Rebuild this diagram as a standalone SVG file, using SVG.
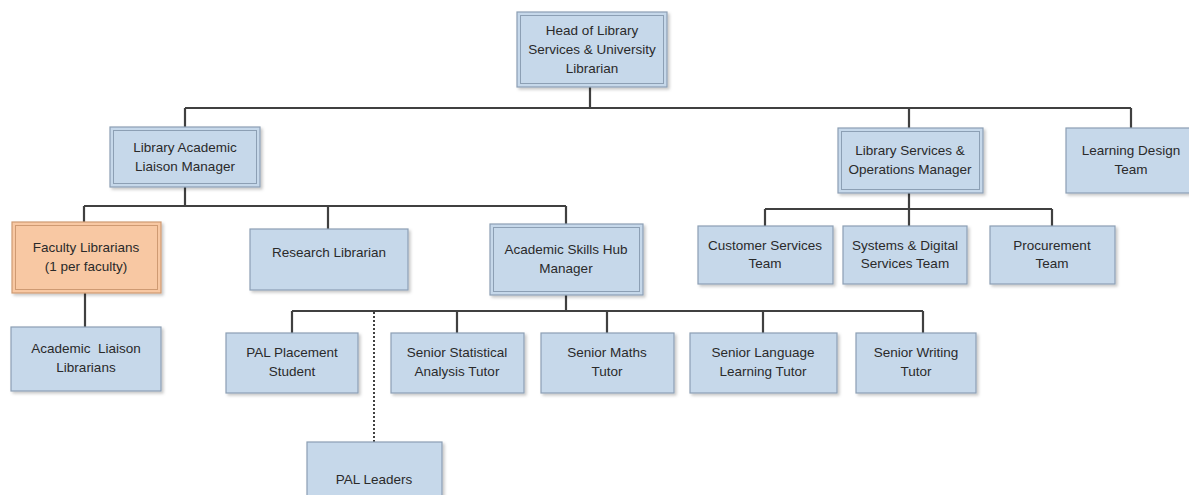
<svg xmlns="http://www.w3.org/2000/svg" width="1189" height="495" viewBox="0 0 1189 495">
  <defs>
    <filter id="shadow" x="-10%" y="-10%" width="130%" height="130%">
      <feDropShadow dx="2" dy="2" stdDeviation="1.5" flood-color="#000" flood-opacity="0.22"/>
    </filter>
  </defs>
  <style>
    .box { fill: #c6d8ea; stroke: #8c9fb4; stroke-width: 1.2; filter: url(#shadow); }
    .inner { fill: none; stroke: #8c9fb4; stroke-width: 1; }
    .orange { fill: #f8c8a3; stroke: #cf9a72; stroke-width: 1.2; filter: url(#shadow); }
    .inner-o { fill: none; stroke: #cf9a72; stroke-width: 1; }
    .lbl { font-family: "Liberation Sans", Arial, sans-serif; font-size: 13.5px; fill: #2a2a2a; text-anchor: middle; }
    .line { stroke: #404040; stroke-width: 2.2; fill: none; }
    .dotted { stroke: #404040; stroke-width: 2; fill: none; stroke-dasharray: 2 2; }
  </style>

  <rect width="1189" height="495" fill="#ffffff"/>

  <!-- reporting lines -->
  <g id="connectors">
    <path class="line" d="M590 87 V108 M185 108 H1131 M185 108 V127 M909 108 V128 M1131 108 V128"/>
    <path class="line" d="M185 187 V206 M84 206 H566 M84 206 V222 M328 206 V229 M566 206 V224"/>
    <path class="line" d="M85 293 V327"/>
    <path class="line" d="M566 295 V311 M292 311 H923 M292 311 V333 M457 311 V333 M607 311 V333 M763 311 V333 M923 311 V333"/>
    <path class="dotted" d="M374 312 V442"/>
    <path class="line" d="M909 193 V226 M765 209 H1052 M765 209 V226 M1052 209 V226"/>
  </g>

  <g id="head">
    <rect class="box" x="517" y="12" width="150" height="75"/>
    <rect class="inner" x="520.5" y="15.5" width="143" height="68"/>
    <text class="lbl" x="592" y="35">Head of Library</text>
    <text class="lbl" x="592" y="54">Services &amp; University</text>
    <text class="lbl" x="592" y="73">Librarian</text>
  </g>

  <g id="liaison-manager">
    <rect class="box" x="110" y="127" width="150" height="60"/>
    <rect class="inner" x="113.5" y="130.5" width="143" height="53"/>
    <text class="lbl" x="185" y="152">Library Academic</text>
    <text class="lbl" x="185" y="171">Liaison Manager</text>
  </g>

  <g id="services-ops-manager">
    <rect class="box" x="838" y="128" width="145" height="65"/>
    <rect class="inner" x="841.5" y="131.5" width="138" height="58"/>
    <text class="lbl" x="910" y="155">Library Services &amp;</text>
    <text class="lbl" x="910" y="174">Operations Manager</text>
  </g>

  <g id="learning-design">
    <rect class="box" x="1066" y="128" width="125" height="65"/>
    <text class="lbl" x="1131" y="155">Learning Design</text>
    <text class="lbl" x="1131" y="174">Team</text>
  </g>

  <g id="faculty-librarians">
    <rect class="orange" x="12" y="222" width="149" height="71"/>
    <rect class="inner-o" x="15.5" y="225.5" width="142" height="64"/>
    <text class="lbl" x="86" y="252">Faculty Librarians</text>
    <text class="lbl" x="86" y="271">(1 per faculty)</text>
  </g>

  <g id="research-librarian">
    <rect class="box" x="250" y="229" width="158" height="61"/>
    <text class="lbl" x="329" y="257">Research Librarian</text>
  </g>

  <g id="skills-hub-manager">
    <rect class="box" x="490" y="224" width="153" height="71"/>
    <rect class="inner" x="493.5" y="227.5" width="146" height="64"/>
    <text class="lbl" x="566" y="254">Academic Skills Hub</text>
    <text class="lbl" x="566" y="273">Manager</text>
  </g>

  <g id="customer-services">
    <rect class="box" x="698" y="226" width="135" height="58"/>
    <text class="lbl" x="765" y="250">Customer Services</text>
    <text class="lbl" x="765" y="268">Team</text>
  </g>

  <g id="systems-digital">
    <rect class="box" x="843" y="226" width="124" height="58"/>
    <text class="lbl" x="905" y="250">Systems &amp; Digital</text>
    <text class="lbl" x="905" y="268">Services Team</text>
  </g>

  <g id="procurement">
    <rect class="box" x="990" y="226" width="125" height="58"/>
    <text class="lbl" x="1052" y="250">Procurement</text>
    <text class="lbl" x="1052" y="268">Team</text>
  </g>

  <g id="liaison-librarians">
    <rect class="box" x="11" y="327" width="150" height="64"/>
    <text class="lbl" x="86" y="353" xml:space="preserve">Academic  Liaison</text>
    <text class="lbl" x="86" y="372">Librarians</text>
  </g>

  <g id="pal-placement">
    <rect class="box" x="226" y="333" width="132" height="60"/>
    <text class="lbl" x="292" y="357">PAL Placement</text>
    <text class="lbl" x="292" y="376">Student</text>
  </g>

  <g id="statistical-tutor">
    <rect class="box" x="391" y="333" width="133" height="60"/>
    <text class="lbl" x="457" y="357">Senior Statistical</text>
    <text class="lbl" x="457" y="376">Analysis Tutor</text>
  </g>

  <g id="maths-tutor">
    <rect class="box" x="541" y="333" width="133" height="60"/>
    <text class="lbl" x="607" y="357">Senior Maths</text>
    <text class="lbl" x="607" y="376">Tutor</text>
  </g>

  <g id="language-tutor">
    <rect class="box" x="690" y="333" width="147" height="60"/>
    <text class="lbl" x="763" y="357">Senior Language</text>
    <text class="lbl" x="763" y="376">Learning Tutor</text>
  </g>

  <g id="writing-tutor">
    <rect class="box" x="856" y="333" width="120" height="60"/>
    <text class="lbl" x="916" y="357">Senior Writing</text>
    <text class="lbl" x="916" y="376">Tutor</text>
  </g>

  <g id="pal-leaders">
    <rect class="box" x="307" y="442" width="135" height="60"/>
    <text class="lbl" x="374" y="484">PAL Leaders</text>
  </g>
</svg>
